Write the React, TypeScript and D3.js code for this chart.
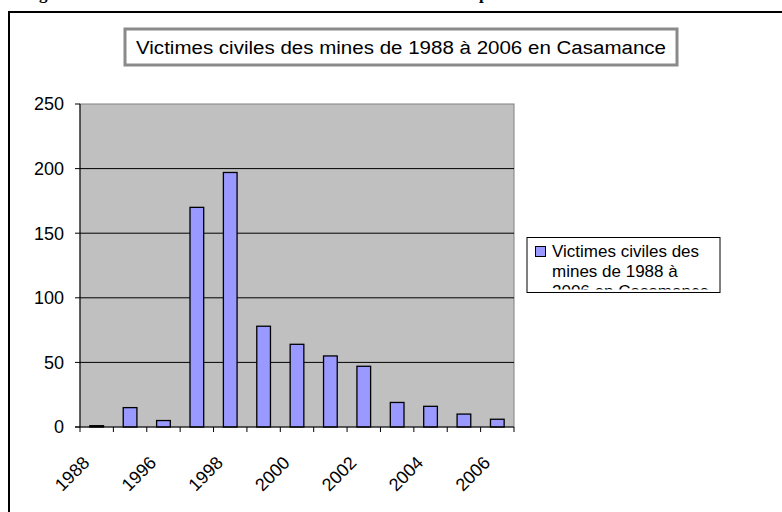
import React from 'react'
import * as d3 from 'd3'

const years = ['1988', '1995', '1996', '1997', '1998', '1999', '2000', '2001', '2002', '2003', '2004', '2005', '2006']
const victims = [1, 15, 5, 170, 197, 78, 64, 55, 47, 19, 16, 10, 6]
const yTicks = [0, 50, 100, 150, 200, 250]
const shownLabels = ['1988', '1996', '1998', '2000', '2002', '2004', '2006']

const chartTitle = 'Victimes civiles des mines de 1988 à 2006 en Casamance'
const legendLines = ['Victimes civiles des', 'mines de 1988 à', '2006 en Casamance']
const caption = 'Figure 4 : Nombre de victimes civiles des mines en Casamance par année'

const W = 782
const H = 512
const plot = { left: 80, right: 514, top: 104, bottom: 427 }

export default function App () {
	const x = d3.scaleBand()
		.domain(years)
		.range([plot.left, plot.right])
		.paddingInner(0)
		.paddingOuter(0)

	const y = d3.scaleLinear()
		.domain([0, 250])
		.range([plot.bottom, plot.top])

	const barW = x.bandwidth() * 0.41
	const font = 'Arial, "Liberation Sans", sans-serif'

	return (
		<svg width={W} height={H} style={{ position: 'absolute', left: 0, top: 0 }}>
			<rect x={0} y={0} width={W} height={H} fill='#fff' />

			{/* caption of the page above, only its descenders show */}
			<text x={24} y={-1} fontFamily='"Liberation Serif", "Times New Roman", serif'
				fontWeight='bold' fontSize={17} fill='#000'>{caption}</text>

			{/* outer frame */}
			<rect x={9} y={12} width={W} height={H} fill='none' stroke='#000' strokeWidth={2} />

			{/* title box */}
			<rect x={125} y={29} width={552} height={36} fill='#fff' stroke='#8a8a8a' strokeWidth={3} />
			<text x={401} y={54} textAnchor='middle' fontFamily={font} fontSize={18}
				textLength={530} lengthAdjust='spacingAndGlyphs'>{chartTitle}</text>

			{/* plot area */}
			<rect x={plot.left} y={plot.top} width={plot.right - plot.left} height={plot.bottom - plot.top}
				fill='#c0c0c0' stroke='#808080' strokeWidth={1} />

			{yTicks.map(t => (
				<g key={t}>
					{t > 0 && t < 250 && (
						<line x1={plot.left} x2={plot.right} y1={y(t)} y2={y(t)} stroke='#000' strokeWidth={1} />
					)}
					<line x1={plot.left - 5} x2={plot.left} y1={y(t)} y2={y(t)} stroke='#000' />
					<text x={64} y={y(t)} dy='0.36em' textAnchor='end' fontFamily={font} fontSize={18}>{t}</text>
				</g>
			))}

			{years.map((yr, i) => (
				<rect key={yr}
					x={x(yr)! + (x.bandwidth() - barW) / 2}
					y={y(victims[i])}
					width={barW}
					height={plot.bottom - y(victims[i])}
					fill='#9999ff' stroke='#000' strokeWidth={1.3} />
			))}

			{/* axes */}
			<line x1={plot.left} x2={plot.left} y1={plot.top} y2={plot.bottom} stroke='#000' />
			<line x1={plot.left - 5} x2={plot.right} y1={plot.bottom} y2={plot.bottom} stroke='#000' />
			{years.concat(['end']).map((yr, i) => {
				const px = plot.left + i * x.step()
				return <line key={yr} x1={px} x2={px} y1={plot.bottom} y2={plot.bottom + 5} stroke='#000' />
			})}
			{shownLabels.map(lbl => {
				const cx = x(lbl)! + x.bandwidth() / 2
				return (
					<text key={lbl} transform={`translate(${cx - 15}, ${plot.bottom + 28}) rotate(-45)`}
						textAnchor='end' dy='0.7em' fontFamily={font} fontSize={18}>{lbl}</text>
				)
			})}

			{/* legend */}
			<defs>
				<clipPath id='legendClip'>
					<rect x={527} y={237} width={193} height={52.5} />
				</clipPath>
			</defs>
			<rect x={527} y={237.5} width={193} height={55} fill='#fff' stroke='#000' strokeWidth={1} />
			<rect x={535.5} y={246.5} width={10} height={10} fill='#9999ff' stroke='#000' strokeWidth={1} />
			<g clipPath='url(#legendClip)'>
				{legendLines.map((l, i) => (
					<text key={i} x={552} y={257 + i * 20} fontFamily={font} fontSize={17}>{l}</text>
				))}
			</g>
		</svg>
	)
}
